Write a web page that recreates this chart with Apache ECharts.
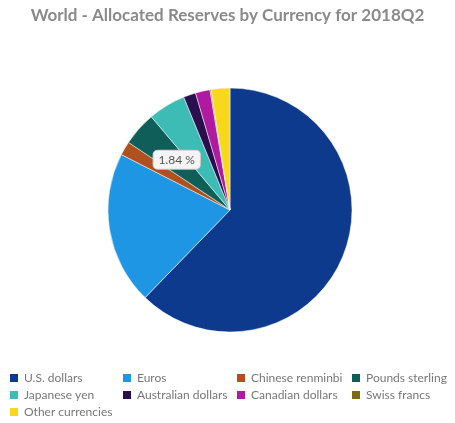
<!DOCTYPE html>
<html><head><meta charset="utf-8">
<script src="https://cdn.jsdelivr.net/npm/echarts@6/dist/echarts.min.js"></script>
<style>html,body{margin:0;background:#fff}#container{width:455px;height:423px}</style>
</head><body><div id="container"></div>
<script>
var currencies = ['U.S. dollars', 'Euros', 'Chinese renminbi', 'Pounds sterling', 'Japanese yen',
  'Australian dollars', 'Canadian dollars', 'Swiss francs', 'Other currencies'];
var shares = [62.25, 20.26, 1.84, 4.49, 4.97, 1.63, 1.93, 0.15, 2.48];
var colors = ['#0d3a8c', '#1f96e3', '#b0501e', '#0f5e5a', '#3cbcb4', '#2a0f4e', '#b01aa0', '#7a6a16', '#f7d81c'];

var myChart = echarts.init(document.getElementById('container'), null, { renderer: 'canvas' });

var columns = [[0, 4, 8], [1, 5], [2, 6], [3, 7]];
var colLeft = [8, 121, 235, 350];
var legends = columns.map(function (idx, i) {
  return {
    orient: 'vertical', left: colLeft[i], top: 372, height: 60, itemGap: 5, padding: 0,
    itemWidth: 10, itemHeight: 10, icon: 'rect',
    textStyle: { fontSize: 12, color: '#777', fontFamily: 'Lato' },
    data: idx.map(function (k) { return currencies[k]; })
  };
});

var option = {
  color: colors,
  title: {
    text: 'World - Allocated Reserves by Currency for 2018Q2',
    left: 'center', top: 2,
    textStyle: { fontSize: 17, fontWeight: 'bold', color: '#8a8a8a', fontFamily: 'Lato' }
  },
  legend: legends,
  series: [{
    type: 'pie',
    center: [230, 210],
    radius: 122,
    startAngle: 90,
    clockwise: true,
    label: { show: false },
    labelLine: { show: false },
    itemStyle: { borderColor: '#fff', borderWidth: 0.5 },
    data: currencies.map(function (c, i) {
      var d = { name: c, value: shares[i] };
      if (i === 2) {
        d.label = {
          show: true, position: 'inside', offset: [2, -18],
          formatter: shares[i].toFixed(2) + ' %',
          backgroundColor: '#f4f4f4', borderColor: '#ccc', borderWidth: 1, borderRadius: 4,
          padding: [3, 5], color: '#555', fontSize: 12, fontFamily: 'Lato'
        };
      }
      return d;
    })
  }]
};
myChart.setOption(option);
window.addEventListener('resize', myChart.resize);
</script></body></html>
